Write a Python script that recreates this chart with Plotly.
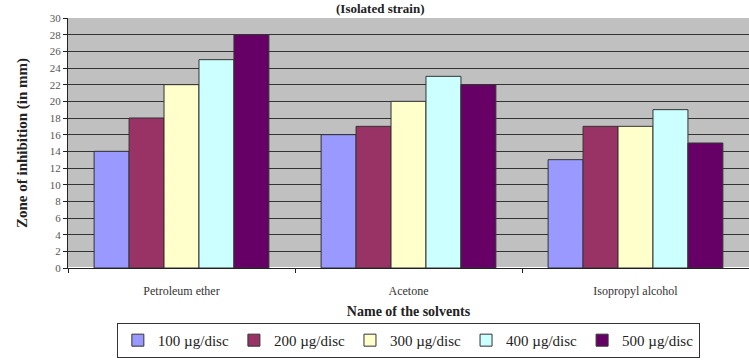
import plotly.graph_objects as go

categories = ["Petroleum ether", "Acetone", "Isopropyl alcohol"]
series_names = ["100 µg/disc", "200 µg/disc", "300 µg/disc", "400 µg/disc", "500 µg/disc"]
values_100 = [14, 16, 13]
values_200 = [18, 17, 17]
values_300 = [22, 20, 17]
values_400 = [25, 23, 19]
values_500 = [28, 22, 15]
colors = ["#9999FF", "#993366", "#FFFFCC", "#CCFFFF", "#660066"]
y_ticks = list(range(0, 31, 2))

fig = go.Figure()
for name, vals, col in zip(series_names,
                           [values_100, values_200, values_300, values_400, values_500],
                           colors):
    fig.add_trace(go.Bar(x=categories, y=vals, name=name,
                         marker=dict(color=col, line=dict(color="#333333", width=1))))

serif = "Liberation Serif, Times New Roman, serif"
fig.update_layout(
    width=749, height=360,
    margin=dict(l=68, r=0, t=18, b=92),
    paper_bgcolor="white",
    plot_bgcolor="#C0C0C0",
    barmode="group",
    bargap=0.23,
    bargroupgap=0,
    font=dict(family=serif, color="#222222"),
    showlegend=True,
    legend=dict(orientation="h", xref="container", yref="container",
                x=0.156, xanchor="left", y=0.103, yanchor="top",
                bordercolor="#333333", borderwidth=1,
                font=dict(family=serif, size=15, color="#222222"),
                itemwidth=30, traceorder="normal"),
    annotations=[dict(text="<b>(Isolated strain)</b>", x=0.458, xref="paper",
                      y=1.0, yref="paper", yshift=10, yanchor="middle",
                      showarrow=False, font=dict(family=serif, size=13, color="#222222"))],
)
fig.update_xaxes(
    automargin=False,
    showline=True, linecolor="#222222", linewidth=1,
    tickson="boundaries", ticks="outside", ticklen=4, tickcolor="#222222",
    ticklabelstandoff=12, tickfont=dict(size=12, color="#333333"),
    title=dict(text="<b>Name of the solvents</b>", font=dict(size=14, color="#222222"), standoff=8),
)
fig.update_yaxes(
    automargin=False,
    range=[0, 30], tickvals=y_ticks,
    showline=True, linecolor="#222222", linewidth=1,
    ticks="outside", ticklen=4, tickcolor="#222222",
    tickfont=dict(size=11, color="#555555"),
    showgrid=True, gridcolor="#333333", gridwidth=1,
    title=dict(text="<b>Zone of inhibition (in mm)</b>", font=dict(size=15, color="#222222"), standoff=18),
)
fig.write_html("out.html", config={"displayModeBar": False},
               post_script="document.body.style.margin='0';")
